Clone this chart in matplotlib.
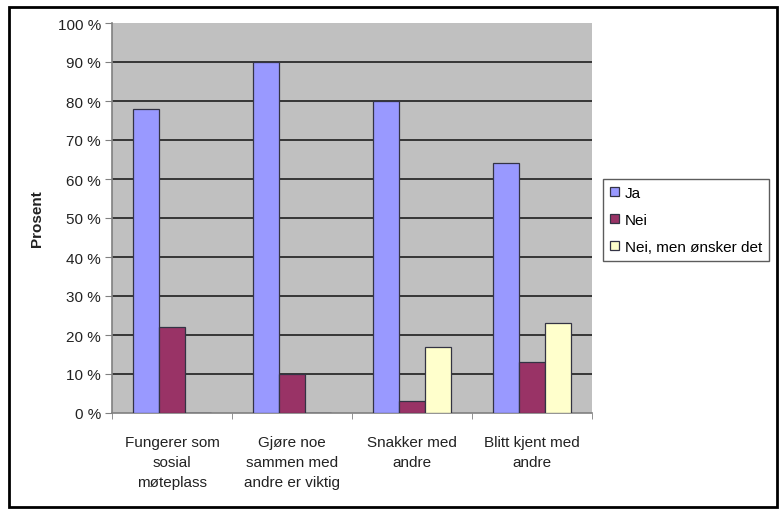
import matplotlib.pyplot as plt
from matplotlib.patches import Rectangle
import numpy as np

plt.rcParams['font.family'] = ['Liberation Sans', 'DejaVu Sans']

categories = ["Fungerer som\nsosial\nmøteplass",
              "Gjøre noe\nsammen med\nandre er viktig",
              "Snakker med\nandre",
              "Blitt kjent med\nandre"]
series_names = ["Ja", "Nei", "Nei, men ønsker det"]
ja = [78, 90, 80, 64]
nei = [22, 10, 3, 13]
nei_men = [0, 0, 17, 23]
colors = ["#9999FF", "#993366", "#FFFFCC"]

W, H = 779, 510
fig = plt.figure(figsize=(W / 100, H / 100), dpi=100)
ax = fig.add_axes([112 / W, 1 - 414 / H, 480 / W, 390 / H])
ax.set_facecolor("#C0C0C0")

x = np.arange(len(categories))
bw = 26 / 120
for k, (vals, col, name) in enumerate(zip([ja, nei, nei_men], colors, series_names)):
    ax.bar(x + (k - 1) * bw, vals, bw, color=col, edgecolor="#333344",
           linewidth=0.9, label=name, zorder=3)

fs = 11
ax.set_xlim(-0.5, 3.5)
ax.set_ylim(0, 100)
ax.set_yticks(range(0, 101, 10))
ax.set_yticklabels([f"{v} %" for v in range(0, 101, 10)], fontsize=fs, color="#222222")
for v in range(10, 100, 10):
    ax.axhline(v, color="#2b2b2b", linewidth=1.3, zorder=1)

ax.set_xticks(x)
ax.set_xticklabels(categories, fontsize=fs, color="#222222", linespacing=1.55)
ax.set_xticks(np.arange(-0.5, 4, 1), minor=True)
ax.tick_params(axis="x", which="major", length=0, pad=16)
ax.tick_params(axis="x", which="minor", length=4, color="#808080")
ax.tick_params(axis="y", length=5, color="#808080", pad=3)

for s in ["top", "right"]:
    ax.spines[s].set_visible(False)
for s in ["left", "bottom"]:
    ax.spines[s].set_color("#808080")
    ax.spines[s].set_linewidth(1.2)

ax.set_ylabel("Prosent", fontsize=fs, fontweight="bold", color="#222222")
ax.yaxis.set_label_coords(-0.142, 0.5)

leg = fig.legend(loc="upper left", bbox_to_anchor=(603 / W, 1 - 180 / H),
                 fontsize=fs, frameon=True, fancybox=False, handlelength=0.6,
                 handleheight=0.6, handletextpad=0.4, borderpad=0.45,
                 labelspacing=0.85, borderaxespad=0)
leg.get_frame().set_edgecolor("#333333")
leg.get_frame().set_linewidth(1.0)

# outer frame around the whole chart
fig.patches.append(Rectangle((9 / W, 2 / H), 768 / W, 500 / H, transform=fig.transFigure,
                             fill=False, edgecolor="black", linewidth=2))

fig.savefig("out.png", dpi=100)
